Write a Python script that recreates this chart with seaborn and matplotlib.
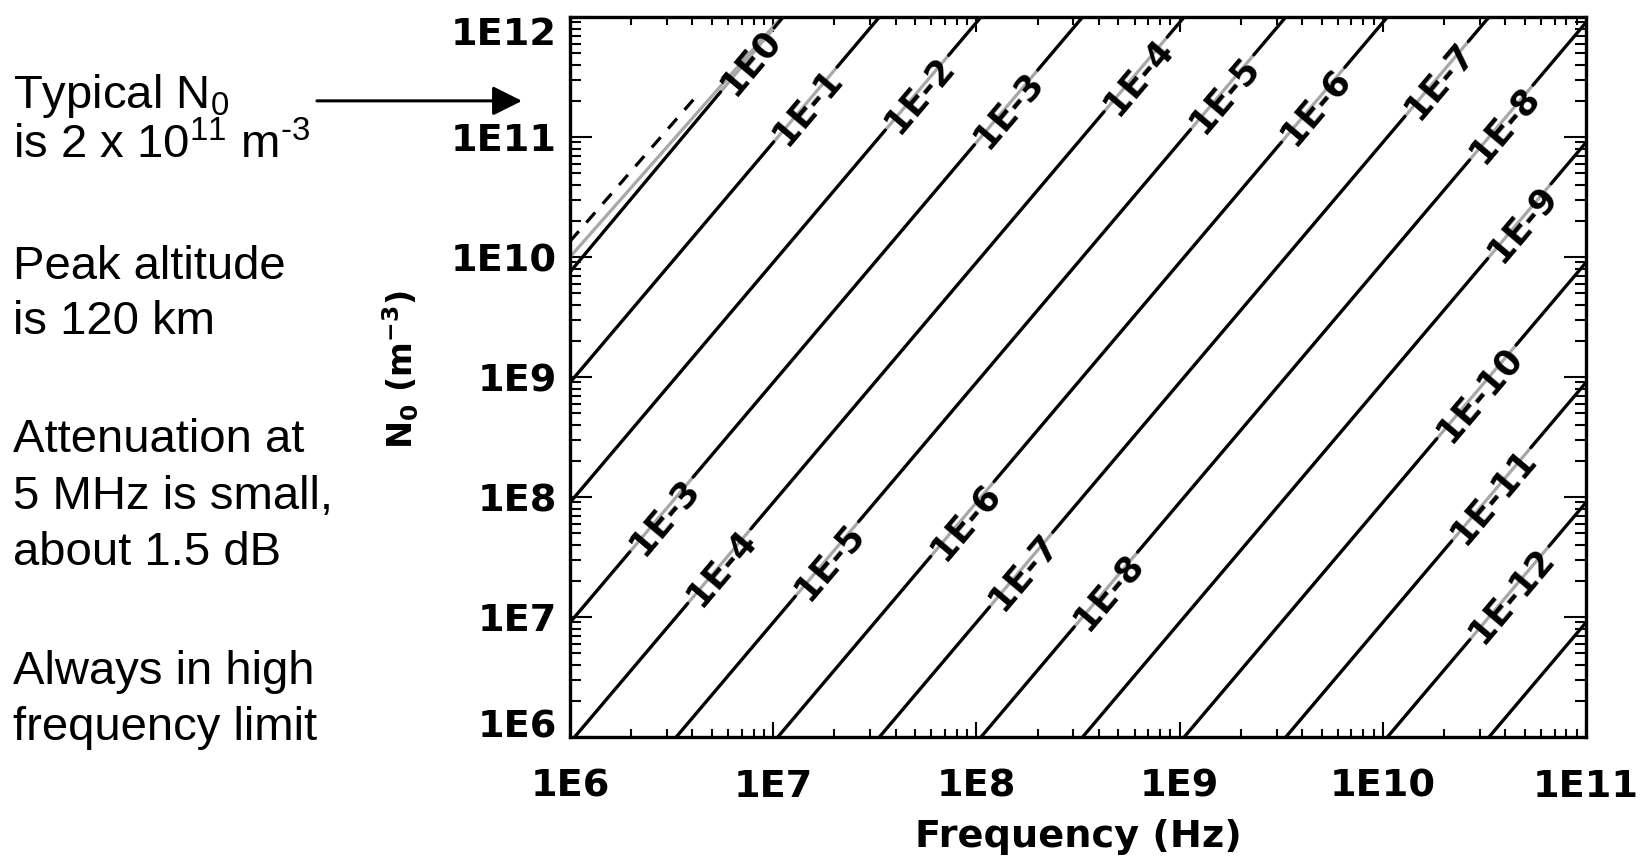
import numpy as np
import pandas as pd
import matplotlib
matplotlib.use("Agg")
import matplotlib.pyplot as plt
import seaborn as sns
from matplotlib.ticker import LogLocator, NullFormatter

# ---- contour lines of attenuation: where each one enters and leaves the frame ----
level_names = ["1E0", "1E-1", "1E-2", "1E-3", "1E-4", "1E-5", "1E-6",
               "1E-7", "1E-8", "1E-9", "1E-10", "1E-11", "1E-12", "1E-13"]
f_start = [1e6, 1e6, 1e6, 1e6, 1.054e6, 3.333e6, 1.054e7,
           3.333e7, 1.054e8, 3.333e8, 1.054e9, 3.333e9, 1.054e10, 3.333e10]
n_start = [7.5e9, 9e8, 9e7, 9e6, 1e6, 1e6, 1e6,
           1e6, 1e6, 1e6, 1e6, 1e6, 1e6, 1e6]
f_end = [1.12e7, 3.333e7, 1.054e8, 3.333e8, 1.054e9, 3.333e9, 1.054e10,
         3.333e10, 1e11, 1e11, 1e11, 1e11, 1e11, 1e11]
n_end = [1e12, 1e12, 1e12, 1e12, 1e12, 1e12, 1e12,
         1e12, 9e11, 9e10, 9e9, 9e8, 9e7, 9e6]

# inline contour labels: which line, and at what frequency
label_level = ["1E0", "1E-1", "1E-2", "1E-3", "1E-4", "1E-5", "1E-6", "1E-7",
               "1E-8", "1E-9", "1E-10", "1E-11", "1E-12",
               "1E-3", "1E-4", "1E-5", "1E-6", "1E-7", "1E-8"]
label_freq = [7.46e6, 1.44e7, 5.1e7, 1.40e8, 6.08e8, 1.62e9, 4.54e9, 1.84e10,
              3.83e10, 4.70e10, 2.89e10, 3.42e10, 4.20e10,
              2.82e6, 5.43e6, 1.84e7, 8.53e7, 1.66e8, 4.34e8]

# grey companion of the 1E0 contour
grey_f = [1e6, 1.1e7]
grey_n = [1e10, 1e12]

# dashed reference line
dash_f = [1e6, 4.2e6]
dash_n = [1.35e10, 2.2e11]

# typical peak density marked by the arrow
typical_n0 = 2e11

x_tick_values = [1e6, 1e7, 1e8, 1e9, 1e10, 1e11]
x_tick_labels = ["1E6", "1E7", "1E8", "1E9", "1E10", "1E11"]
y_tick_values = [1e6, 1e7, 1e8, 1e9, 1e10, 1e11, 1e12]
y_tick_labels = ["1E6", "1E7", "1E8", "1E9", "1E10", "1E11", "1E12"]

notes = [
    ("Typical N$_0$", 108),
    (r"is 2 x 10$^{11}$ m$^{\text{-}3}$", 158),
    ("Peak altitude", 279),
    ("is 120 km", 334),
    ("Attenuation at", 452),
    ("5 MHz is small,", 509),
    ("about 1.5 dB", 565),
    ("Always in high", 684),
    ("frequency limit", 740),
]

# ---- style ----
sns.set_style("ticks")
plt.rcParams["font.family"] = ["DejaVu Sans"]
plt.rcParams["text.color"] = "black"
plt.rcParams["axes.labelcolor"] = "black"
plt.rcParams["xtick.color"] = "black"
plt.rcParams["ytick.color"] = "black"
plt.rcParams["axes.edgecolor"] = "black"
plt.rcParams["mathtext.fontset"] = "custom"
plt.rcParams["mathtext.rm"] = "Liberation Sans"
plt.rcParams["mathtext.it"] = "Liberation Sans:italic"
plt.rcParams["mathtext.bf"] = "Liberation Sans:bold"

W, H = 1643, 859
fig = plt.figure(figsize=(W / 100, H / 100), dpi=100)
ax = fig.add_axes([570 / W, 1 - 737 / H, 1016 / W, 720 / H])
ax.set_xscale("log")
ax.set_yscale("log")
ax.set_xlim(1e6, 1e11)
ax.set_ylim(1e6, 1e12)
renderer = fig.canvas.get_renderer()

LW = 2.3
GREY = "#a8a8a8"


def on_line(i, f):
    lf0, lf1 = np.log10(f_start[i]), np.log10(f_end[i])
    ln0, ln1 = np.log10(n_start[i]), np.log10(n_end[i])
    t = (np.log10(f) - lf0) / (lf1 - lf0)
    return 10 ** (ln0 + t * (ln1 - ln0))


# labels, and the stretch of each line they cover
gaps = {i: [] for i in range(len(level_names))}
inv = ax.transData.inverted()
for name, f in zip(label_level, label_freq):
    i = level_names.index(name)
    n = on_line(i, f)
    p0 = ax.transData.transform((f_start[i], n_start[i]))
    p1 = ax.transData.transform((f_end[i], n_end[i]))
    d = (p1 - p0) / np.hypot(*(p1 - p0))
    ang = np.degrees(np.arctan2(d[1], d[0]))
    txt = ax.text(f, n, name, rotation=0, rotation_mode="anchor",
                  ha="center", va="center_baseline", fontsize=25.5,
                  fontweight="bold", family="DejaVu Sans", color="black",
                  zorder=5)
    w = txt.get_window_extent(renderer).width
    txt.set_rotation(ang)
    c = ax.transData.transform((f, n))
    half = w / 2 + 5
    a = inv.transform(c - d * half)[0]
    b = inv.transform(c + d * half)[0]
    gaps[i].append((a, b))

# black pieces of every contour, broken at the labels
rows = []
seg = 0
for i in range(len(level_names)):
    cuts = sorted(gaps[i])
    lo = f_start[i]
    pieces = []
    for a, b in cuts:
        if a > lo:
            pieces.append((lo, a))
        lo = max(lo, b)
    if lo < f_end[i]:
        pieces.append((lo, f_end[i]))
    for fa, fb in pieces:
        rows.append((seg, fa, on_line(i, fa)))
        rows.append((seg, fb, on_line(i, fb)))
        seg += 1
black_df = pd.DataFrame(rows, columns=["seg", "f", "n"])

# grey underlay (shows through the label gaps)
grey_rows = []
for i in range(len(level_names)):
    grey_rows.append((i, f_start[i], n_start[i]))
    grey_rows.append((i, f_end[i], n_end[i]))
k = len(level_names)
for f, n in zip(grey_f, grey_n):
    grey_rows.append((k, f, n))
grey_df = pd.DataFrame(grey_rows, columns=["seg", "f", "n"])

sns.lineplot(data=grey_df, x="f", y="n", units="seg", estimator=None,
             sort=False, color=GREY, linewidth=LW, ax=ax, zorder=2,
             legend=False)
sns.lineplot(data=black_df, x="f", y="n", units="seg", estimator=None,
             sort=False, color="black", linewidth=LW, ax=ax, zorder=3,
             legend=False)
sns.lineplot(x=dash_f, y=dash_n, color="black", linewidth=LW, ax=ax,
             zorder=3, legend=False)
ax.lines[-1].set_dashes((4.2, 3.6))

ax.set_xlim(1e6, 1e11)
ax.set_ylim(1e6, 1e12)

# ---- axes, ticks ----
for s in ax.spines.values():
    s.set_linewidth(2.4)
    s.set_color("black")

ax.set_xticks(x_tick_values, x_tick_labels, fontsize=27.5, fontweight="bold")
ax.set_yticks(y_tick_values, y_tick_labels, fontsize=27.5, fontweight="bold")
ax.xaxis.set_minor_locator(LogLocator(base=10, subs=np.arange(2, 10), numticks=50))
ax.yaxis.set_minor_locator(LogLocator(base=10, subs=np.arange(2, 10), numticks=50))
ax.xaxis.set_minor_formatter(NullFormatter())
ax.yaxis.set_minor_formatter(NullFormatter())
ax.tick_params(axis="x", which="major", direction="in", length=11, width=1.5,
               top=True, bottom=True, pad=23, colors="black")
ax.tick_params(axis="x", which="minor", direction="in", length=5.5, width=1.5,
               top=True, bottom=True)
ax.tick_params(axis="y", which="major", direction="in", length=16, width=1.5,
               left=True, right=True, pad=9.5, colors="black")
ax.tick_params(axis="y", which="minor", direction="in", length=8, width=1.5,
               left=True, right=True)
ylabels = ax.get_yticklabels()
ylabels[0].set_va("baseline")
ylabels[-1].set_va("top")

ax.set_xlabel("Frequency (Hz)", fontsize=27.5, fontweight="bold",
              family="DejaVu Sans", color="black")
ax.xaxis.set_label_coords(0.5, -0.114)
ax.set_ylabel(r"N$_\mathbf{0}$ (m$^\mathbf{-3}$)", fontsize=24,
              fontweight="bold", family="DejaVu Sans", color="black",
              math_fontfamily="dejavusans")
ax.yaxis.set_label_coords(-0.1467, 0.51)

# ---- arrow to the typical density ----
ax.annotate("", xy=(522 / W, typical_n0), xytext=(317 / W, typical_n0),
            xycoords=("figure fraction", "data"),
            textcoords=("figure fraction", "data"),
            arrowprops=dict(arrowstyle="-|>,head_length=0.9,head_width=0.45",
                            mutation_scale=20, lw=2.2, color="black",
                            shrinkA=0, shrinkB=0),
            annotation_clip=False)

# ---- notes on the left ----
for s, yb in notes:
    fig.text(13 / W, 1 - yb / H, s, fontsize=34, family="Liberation Sans",
             math_fontfamily="custom", va="baseline", ha="left",
             color="black")

fig.savefig("out.png", dpi=100, facecolor="white")
